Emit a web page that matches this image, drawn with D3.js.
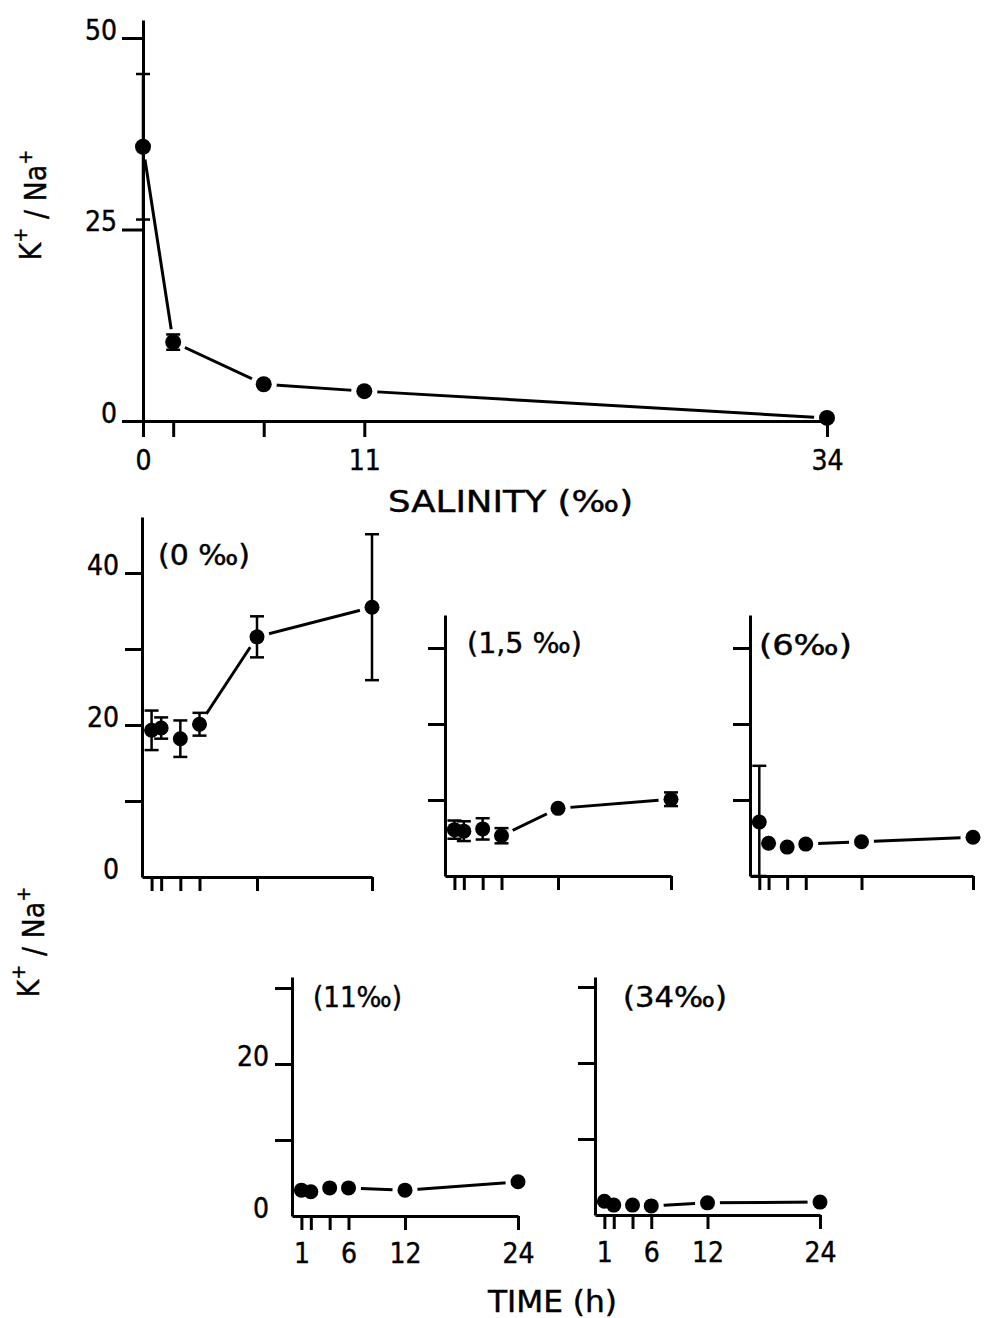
<!DOCTYPE html>
<html>
<head>
<meta charset="utf-8">
<script src="https://cdn.jsdelivr.net/npm/d3@7"></script>
<style>
  body { margin: 0; background: #fff; }
  svg text { font-family: "DejaVu Sans Condensed", "DejaVu Sans", sans-serif; font-stretch: condensed;
             fill: #000; stroke: #000; stroke-width: 0.4; }
</style>
</head>
<body>
<svg id="chart" width="985" height="1318"></svg>
<script>
// values
const salinity = [0, 1.5, 6, 11, 34];
const ratioSalinity = [35.8, 10.3, 4.8, 3.9, 0.4];
const ratioSalinityErr = [9.5, 1.0, 0, 0, 0];
const salinityTickLabels = ["0", "", "", "11", "34"];
const salinityYTicks = [0, 25, 50];

const hours = [1, 2, 4, 6, 12, 24];
const hourTickLabels = ["1", "", "", "6", "12", "24"];
const panelNames = ["(0 ‰)", "(1,5 ‰)", "(6‰)", "(11‰)", "(34‰)"];

const ratio0 = [19.3, 19.6, 18.2, 20.1, 31.6, 35.5];
const err0 = [2.6, 1.4, 2.4, 1.5, 2.7, 9.6];
const ratio15 = [6.1, 5.9, 6.2, 5.3, 8.9, 10.1];
const err15 = [1.2, 1.3, 1.4, 1.0, 0, 0.9];
const ratio6 = [7.1, 4.3, 3.8, 4.2, 4.5, 5.1];
const err6 = [7.4, 0, 0, 0, 0, 0];
const ratio11 = [3.4, 3.2, 3.7, 3.7, 3.4, 4.5];
const ratio34 = [1.8, 1.3, 1.3, 1.2, 1.6, 1.7];
const noErr = [0, 0, 0, 0, 0, 0];

const svg = d3.select("#chart");
const pxPerUnit = 7.6;
const r = 7.5;

const layers = {
    lines: svg.append("g"),
    halos: svg.append("g"),
    axes: svg.append("g"),
    errs: svg.append("g"),
    dots: svg.append("g"),
    text: svg.append("g")
};

function drawSeries(xs, ys, errs, x, y, rad) {
    const pts = xs.map((d, i) => ({ x: x(d), y: y(ys[i]), v: ys[i], e: errs[i] }));
    layers.lines.append("path")
        .datum(pts)
        .attr("d", d3.line().x(d => d.x).y(d => d.y))
        .attr("fill", "none")
        .attr("stroke", "#000")
        .attr("stroke-width", 3);
    // white ring so the joining line stops short of each dot
    layers.halos.selectAll(null).data(pts).enter().append("circle")
        .attr("cx", d => d.x).attr("cy", d => d.y).attr("r", rad + 5)
        .attr("fill", "#fff");
    pts.filter(d => d.e > 0).forEach(d => {
        const y1 = y(Math.max(0, d.v - d.e)), y2 = y(d.v + d.e);
        const g = layers.errs.append("g").attr("stroke", "#000").attr("stroke-width", 2.5);
        g.append("line").attr("x1", d.x).attr("x2", d.x).attr("y1", y1).attr("y2", y2);
        g.append("line").attr("x1", d.x - 7).attr("x2", d.x + 7).attr("y1", y1).attr("y2", y1);
        g.append("line").attr("x1", d.x - 7).attr("x2", d.x + 7).attr("y1", y2).attr("y2", y2);
    });
    layers.dots.selectAll(null).data(pts).enter().append("circle")
        .attr("cx", d => d.x).attr("cy", d => d.y).attr("r", rad)
        .attr("fill", "#000");
}

function styleAxis(g) {
    g.selectAll("path.domain").attr("stroke-width", 3);
    g.selectAll(".tick line").attr("stroke-width", 3);
    g.selectAll("text").attr("font-size", 28).attr("font-family", null).attr("fill", null);
}

// ---- top chart: ratio vs salinity ----
const salFrame = { left: 143, right: 827, bottom: 421, top: 20 };
const xSal = d3.scaleLinear().domain([0, 34]).range([salFrame.left, salFrame.right]);
const ySal = d3.scaleLinear().domain([0, (salFrame.bottom - salFrame.top) / 7.66]).range([salFrame.bottom, salFrame.top]);

layers.axes.append("g")
    .attr("transform", `translate(0,${salFrame.bottom})`)
    .call(d3.axisBottom(xSal).tickValues(salinity).tickSize(16).tickSizeOuter(0)
        .tickFormat((d, i) => salinityTickLabels[i]))
    .call(styleAxis)
    .call(g => g.selectAll("text").attr("y", 29));

layers.axes.append("g")
    .attr("transform", `translate(${salFrame.left},0)`)
    .call(d3.axisLeft(ySal).tickValues(salinityYTicks).tickSize(21).tickSizeOuter(0).tickPadding(5))
    .call(styleAxis)
    .call(g => g.selectAll("text").attr("dy", "0.05em"));

drawSeries(salinity, ratioSalinity, ratioSalinityErr, xSal, ySal, 8);

layers.text.append("text")
    .attr("x", 388).attr("y", 512)
    .attr("font-size", 30)
    .attr("textLength", 245).attr("lengthAdjust", "spacingAndGlyphs")
    .text("SALINITY (‰)");

// ---- time course panels ----
const panels = [
    { name: panelNames[0], values: ratio0, errs: err0, left: 142, right: 372, bottom: 877, top: 517,
      ticks: [0, 10, 20, 30, 40], labels: [0, 20, 40], hourLabels: false, tx: 158, ty: 565, tw: 92 },
    { name: panelNames[1], values: ratio15, errs: err15, left: 445, right: 671, bottom: 876, top: 615,
      ticks: [10, 20, 30], labels: [], hourLabels: false, tx: 467, ty: 653, tw: 115 },
    { name: panelNames[2], values: ratio6, errs: err6, left: 750, right: 973, bottom: 876, top: 615,
      ticks: [10, 20, 30], labels: [], hourLabels: false, tx: 759, ty: 655, tw: 93 },
    { name: panelNames[3], values: ratio11, errs: noErr, left: 292, right: 518, bottom: 1216, top: 977,
      ticks: [0, 10, 20, 30], labels: [0, 20], hourLabels: true, tx: 313, ty: 1007, tw: 89 },
    { name: panelNames[4], values: ratio34, errs: noErr, left: 595, right: 820, bottom: 1215, top: 977,
      ticks: [10, 20, 30], labels: [], hourLabels: true, tx: 623, ty: 1007, tw: 104 }
];

panels.forEach(p => {
    const x = d3.scaleLinear().domain([0, 24]).range([p.left, p.right]);
    const y = d3.scaleLinear().domain([0, (p.bottom - p.top) / pxPerUnit]).range([p.bottom, p.top]);

    layers.axes.append("g")
        .attr("transform", `translate(0,${p.bottom})`)
        .call(d3.axisBottom(x).tickValues(hours).tickSize(14).tickSizeOuter(0)
            .tickFormat((d, i) => p.hourLabels ? hourTickLabels[i] : ""))
        .call(styleAxis)
        .call(g => g.selectAll("text").attr("y", 27));

    layers.axes.append("g")
        .attr("transform", `translate(${p.left},0)`)
        .call(d3.axisLeft(y).tickValues(p.ticks).tickSize(17).tickSizeOuter(0).tickPadding(6)
            .tickFormat(d => p.labels.includes(d) ? d : ""))
        .call(styleAxis)
        .call(g => g.selectAll("text").attr("dy", "0.05em"))
        .call(g => g.selectAll(".tick").filter(d => d === 0).select("line").attr("x2", 0));

    drawSeries(hours, p.values, p.errs, x, y, r);

    layers.text.append("text")
        .attr("x", p.tx).attr("y", p.ty)
        .attr("font-size", 28)
        .attr("textLength", p.tw).attr("lengthAdjust", "spacingAndGlyphs")
        .text(p.name);
});

layers.text.append("text")
    .attr("x", 488).attr("y", 1312)
    .attr("font-size", 30)
    .attr("textLength", 129).attr("lengthAdjust", "spacingAndGlyphs")
    .text("TIME (h)");

// y axis titles
function ratioTitle(cx, cy) {
    const t = layers.text.append("text")
        .attr("transform", `translate(${cx},${cy}) rotate(-90)`)
        .attr("text-anchor", "middle")
        .attr("dominant-baseline", "central")
        .attr("font-size", 30);
    t.append("tspan").text("K");
    t.append("tspan").attr("dy", "-0.5em").attr("font-size", 20).text("+");
    t.append("tspan").attr("dy", "0.5em").text(" / Na");
    t.append("tspan").attr("dy", "-0.5em").attr("font-size", 20).text("+");
}
ratioTitle(30, 205);
ratioTitle(28, 942);
</script>
</body>
</html>
